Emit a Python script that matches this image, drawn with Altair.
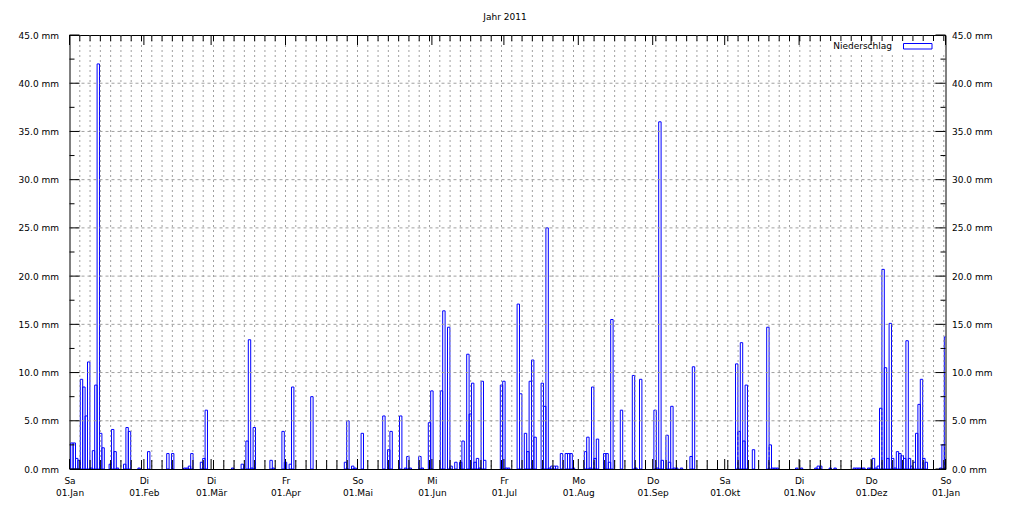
import json
import altair as alt
import pandas as pd

# ---- daily precipitation 2011 (mm), one list per month ----
jan = [2.7, 2.7, 1.1, 0.9, 9.3, 8.5, 5.5, 11.1, 0.1, 1.9, 8.7, 42.0, 3.7, 2.2, 0, 0, 0.5, 4.1, 1.8, 0.1,
       0, 0, 0.5, 4.3, 3.9, 0, 0, 0, 0.1, 0, 0]
feb = [0, 1.8, 0, 0, 0, 0, 0, 0, 0, 1.6, 0, 1.6, 0, 0, 0, 0, 0.1, 0.1, 0.3, 1.6, 0, 0, 0, 0.7, 1.1, 6.1, 0, 0]
mar = [0, 0, 0, 0, 0, 0, 0, 0, 0.1, 0, 0, 0, 0.5, 0, 2.9, 13.4, 0.1, 4.3, 0, 0, 0, 0, 0, 0, 0.9, 0.1,
       0, 0, 0, 3.9, 0.7]
apr = [0, 0.5, 8.5, 0, 0, 0, 0, 0, 0, 0, 7.5, 0, 0, 0, 0, 0, 0, 0, 0, 0, 0, 0, 0, 0, 0.7, 5.0, 0, 0.3, 0.1, 0]
may = [0, 3.7, 0, 0, 0, 0, 0, 0, 0, 0, 5.5, 0, 2.0, 3.9, 0, 0, 0, 5.5, 0, 0.1, 1.3, 0.1, 0, 0, 0, 1.3, 0.1,
       0, 0, 4.8, 8.1]
jun = [0, 0, 0, 8.1, 16.4, 0, 14.7, 0.3, 0, 0.7, 0, 0.7, 2.9, 0, 11.9, 5.7, 8.9, 0.7, 1.1, 0.1, 9.1, 0.9,
       0, 0, 0, 0, 0, 0, 8.7, 9.1]
jul = [0.1, 0.1, 0, 0, 0, 17.1, 7.8, 0, 3.7, 1.8, 9.1, 11.3, 3.3, 0, 0, 8.9, 6.5, 25.0, 0.1, 0.3, 0.3, 0.3,
       0, 1.6, 0, 1.6, 1.6, 1.6, 0.1, 0, 0]
aug = [0, 0, 1.8, 3.3, 0.1, 8.5, 1.1, 3.1, 0, 0, 1.6, 1.6, 0.7, 15.5, 0, 0, 0, 6.1, 0, 0, 0, 0, 9.7, 0.1,
       0, 9.3, 0, 0, 0, 0, 0]
sep = [6.1, 0.1, 36.0, 0.9, 0, 3.5, 0.7, 6.5, 0.1, 0.1, 0, 0.1, 0, 0, 0, 1.3, 10.6, 0, 0, 0, 0, 0, 0, 0,
       0, 0, 0, 0, 0, 0]
okt = [0, 0, 0, 0, 10.9, 3.9, 13.1, 2.9, 8.7, 0, 0, 2.0, 0, 0, 0, 0, 0, 14.7, 2.5, 0.1, 0.1, 0.1, 0, 0,
       0, 0, 0, 0, 0, 0.1, 0]
nov = [0.1, 0, 0, 0, 0, 0, 0.1, 0.3, 0.3, 0, 0, 0, 0.1, 0, 0.1, 0, 0, 0, 0, 0, 0, 0, 0.1, 0.1, 0.1, 0.1,
       0.1, 0, 0.1, 0.1]
dez = [1.1, 0.1, 0.3, 6.3, 20.7, 10.5, 1.1, 15.1, 1.1, 0.1, 1.8, 1.6, 1.4, 1.1, 13.3, 1.1, 0.3, 0.7, 3.7,
       6.7, 9.3, 1.1, 0.7, 0, 0, 0, 0, 0, 0.1, 2.5, 13.7]

# ---- axis labels / ticks ----
month_start = [0, 31, 59, 90, 120, 151, 181, 212, 243, 273, 304, 334, 365]
weekday_lbl = ["Sa", "Di", "Di", "Fr", "So", "Mi", "Fr", "Mo", "Do", "Sa", "Di", "Do", "So"]
date_lbl = ["01.Jan", "01.Feb", "01.Mär", "01.Apr", "01.Mai", "01.Jun", "01.Jul", "01.Aug",
            "01.Sep", "01.Okt", "01.Nov", "01.Dez", "01.Jan"]
y_major = [0, 5, 10, 15, 20, 25, 30, 35, 40, 45]
y_minor = [2.5, 7.5, 12.5, 17.5, 22.5, 27.5, 32.5, 37.5, 42.5]
x_minor = [k * 30 / 7 for k in range(86)]
title_text = "Jahr 2011"
legend_text = "Niederschlag"

rain = jan + feb + mar + apr + may + jun + jul + aug + sep + okt + nov + dez
df = pd.DataFrame({"day": list(range(len(rain))), "mm": rain})
df = df[df.mm > 0].copy()
# gnuplot draws each daily box slightly right of the day's start
df["x0"] = df["day"] + 0.5
df["x1"] = df["day"] + 1.5

W, H = 876, 434
FONT = "DejaVu Sans"
BLUE = "#0000ff"
GRID = "#a0a0a0"

xs = alt.Scale(domain=[0, 365], nice=False, zero=False)
ys = alt.Scale(domain=[0, 45], nice=False, zero=True)

idx = f"indexof({json.dumps(month_start)}, datum.value)"
x_label_expr = (f"[{json.dumps(weekday_lbl)}[{idx}], "
                f"{json.dumps(date_lbl, ensure_ascii=False)}[{idx}]]")
y_label_expr = "format(datum.value, '.1f') + ' mm'"

one = pd.DataFrame({"a": [0]})
xmin_df = pd.DataFrame({"v": x_minor})
xgrid_df = pd.DataFrame({"v": x_minor[1:]})
mon_df = pd.DataFrame({"v": month_start})
ymaj_df = pd.DataFrame({"v": y_major})
ymin_df = pd.DataFrame({"v": y_minor})
ygrid_df = pd.DataFrame({"v": y_major[1:-1]})

vgrid = alt.Chart(xgrid_df).mark_rule(color=GRID, strokeWidth=1, strokeDash=[2, 3]).encode(
    x=alt.X("v:Q", scale=xs, axis=None), y=alt.value(0), y2=alt.value(H))
hgrid = alt.Chart(ygrid_df).mark_rule(color=GRID, strokeWidth=1, strokeDash=[3, 3]).encode(
    y=alt.Y("v:Q", scale=ys, axis=None), x=alt.value(0), x2=alt.value(W))

key_bg = alt.Chart(one).mark_rect(fill="white").encode(
    x=alt.value(757), x2=alt.value(875), y=alt.value(1), y2=alt.value(17))

bars = alt.Chart(df).mark_rect(stroke=BLUE, strokeWidth=1, fill="white", fillOpacity=0, clip=True).encode(
    x=alt.X("x0:Q", scale=xs,
            axis=alt.Axis(values=month_start, labelExpr=x_label_expr, ticks=False, domain=False,
                          grid=False, title="", labelFont=FONT, labelFontSize=9, labelColor="black",
                          labelBaseline="top", labelLineHeight=12, labelPadding=7, labelOverlap=False,
                          labelFlush=False, labelBound=False)),
    x2="x1:Q",
    y=alt.Y("mm:Q", scale=ys,
            axis=alt.Axis(values=y_major, labelExpr=y_label_expr, ticks=False, domain=False, grid=False,
                          title="", orient="left", labelFont=FONT, labelFontSize=9, labelColor="black",
                          labelPadding=11, labelOverlap=False, labelBound=False, labelFlush=False)),
    y2=alt.datum(0),
)

# inward tick marks
tick = dict(color="black", strokeWidth=1)
xb_min = alt.Chart(xmin_df).mark_rule(**tick).encode(
    x=alt.X("v:Q", scale=xs, axis=None), y=alt.value(H - 9), y2=alt.value(H))
xb_maj = alt.Chart(mon_df).mark_rule(**tick).encode(
    x=alt.X("v:Q", scale=xs, axis=None), y=alt.value(H - 10), y2=alt.value(H))
xt_min = alt.Chart(xmin_df).mark_rule(**tick).encode(
    x=alt.X("v:Q", scale=xs, axis=None), y=alt.value(0), y2=alt.value(6))
xt_maj = alt.Chart(mon_df).mark_rule(**tick).encode(
    x=alt.X("v:Q", scale=xs, axis=None), y=alt.value(0), y2=alt.value(10))
yl_maj = alt.Chart(ymaj_df).mark_rule(**tick).encode(
    y=alt.Y("v:Q", scale=ys, axis=None), x=alt.value(0), x2=alt.value(10))
yl_min = alt.Chart(ymin_df).mark_rule(**tick).encode(
    y=alt.Y("v:Q", scale=ys, axis=None), x=alt.value(0), x2=alt.value(5))
yr_maj = alt.Chart(ymaj_df).mark_rule(**tick).encode(
    y=alt.Y("v:Q", scale=ys,
            axis=alt.Axis(values=y_major, labelExpr=y_label_expr, ticks=False, domain=False, grid=False,
                          title="", orient="right", labelFont=FONT, labelFontSize=9, labelColor="black",
                          labelPadding=6, labelOverlap=False, labelBound=False, labelFlush=False)),
    x=alt.value(W - 10), x2=alt.value(W))
yr_min = alt.Chart(ymin_df).mark_rule(**tick).encode(
    y=alt.Y("v:Q", scale=ys, axis=None), x=alt.value(W - 5), x2=alt.value(W))

# legend (key) and title
key_text = alt.Chart(one).mark_text(font=FONT, fontSize=9, align="right", baseline="middle",
                                    color="black", text=legend_text).encode(
    x=alt.value(822.5), y=alt.value(11))
key_box = alt.Chart(one).mark_rect(stroke=BLUE, strokeWidth=1, fill="white", fillOpacity=0).encode(
    x=alt.value(834), x2=alt.value(862.5), y=alt.value(8.5), y2=alt.value(14))
title = alt.Chart(one).mark_text(font=FONT, fontSize=9, align="center", baseline="middle",
                                 color="black", text=title_text).encode(
    x=alt.value(435.5), y=alt.value(-18))

chart = alt.layer(
    bars, vgrid, hgrid, key_bg, xb_min, xb_maj, xt_min, xt_maj,
    yl_maj, yl_min, yr_maj, yr_min, key_text, key_box, title
).resolve_scale(y="independent").resolve_axis(x="independent").properties(
    width=W, height=H,
    autosize=alt.AutoSizeParams(type="none"),
    padding={"left": 61.5, "top": 27, "right": 61.5, "bottom": 30},
    background="white",
).configure_view(stroke="black", strokeWidth=1)

chart.save("out.html", embed_options={"renderer": "svg", "actions": False})
